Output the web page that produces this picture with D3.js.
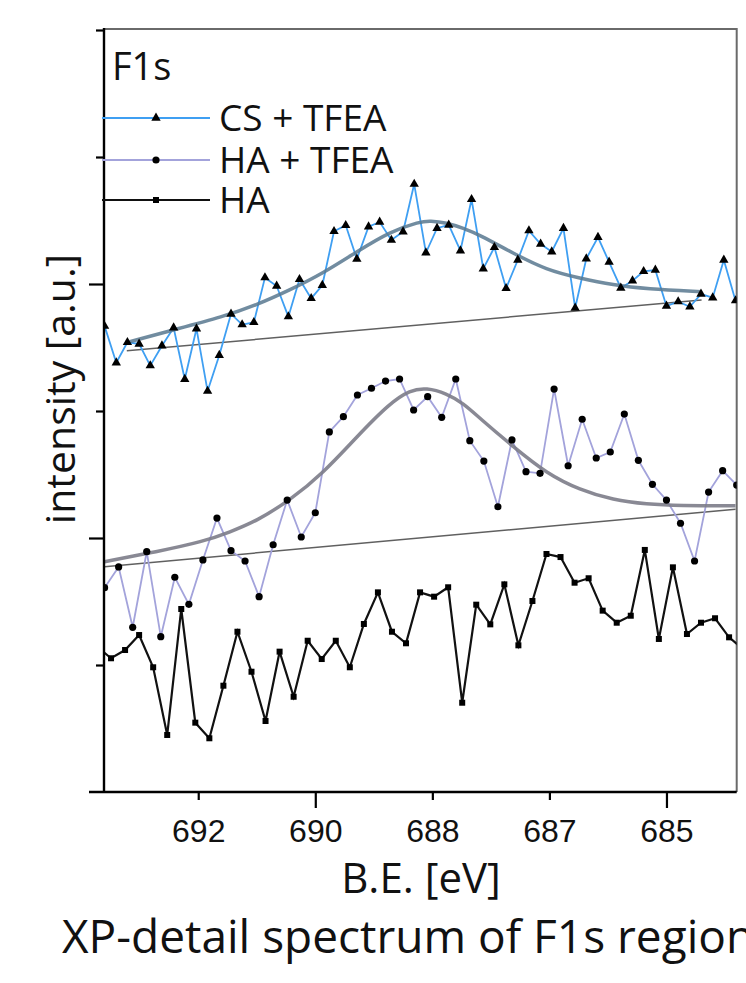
<!DOCTYPE html>
<html lang="en">
	<head>
		<meta charset="utf-8">
		<title>XP-detail spectrum of F1s region</title>
		<script src="https://d3js.org/d3.v7.min.js" charset="utf-8"></script>
		<style type="text/css">
			body { margin: 0; background: #fff; }
			svg { display: block; }
		</style>
	</head>
	<body>
		<div id="main"></div>

		<script type="text/javascript">

			// binding energies [eV] and intensities (axis units, 0 = bottom, 6 = top)
			var csEnergy = [693.60, 693.40, 693.21, 693.01, 692.82, 692.62, 692.42, 692.23, 692.03, 691.84,
				691.64, 691.44, 691.25, 691.05, 690.86, 690.66, 690.46, 690.27, 690.07, 689.88,
				689.68, 689.48, 689.29, 689.09, 688.90, 688.70, 688.50, 688.31, 688.11, 687.92,
				687.72, 687.52, 687.33, 687.13, 686.94, 686.74, 686.54, 686.35, 686.15, 685.96,
				685.76, 685.56, 685.37, 685.17, 684.98, 684.78, 684.58, 684.39, 684.19, 684.00,
				683.80, 683.60, 683.41, 683.21, 683.02, 682.82];
			var csIntensity = [3.669, 3.380, 3.541, 3.528, 3.357, 3.514, 3.656, 3.250, 3.648, 3.157,
				3.439, 3.764, 3.680, 3.698, 4.050, 3.984, 3.743, 4.037, 3.887, 3.990,
				4.415, 4.462, 4.197, 4.451, 4.488, 4.346, 4.412, 4.787, 4.246, 4.439,
				4.465, 4.262, 4.667, 4.120, 4.289, 3.966, 4.189, 4.420, 4.315, 4.254,
				4.439, 3.811, 4.199, 4.368, 4.173, 3.969, 4.026, 4.100, 4.110, 3.827,
				3.861, 3.821, 3.921, 3.892, 4.189, 3.869];

			var haTfeaEnergy = [693.60, 693.36, 693.12, 692.88, 692.64, 692.40, 692.16, 691.92, 691.68, 691.44,
				691.20, 690.96, 690.72, 690.48, 690.24, 690.00, 689.76, 689.52, 689.28, 689.04,
				688.80, 688.56, 688.32, 688.08, 687.84, 687.60, 687.36, 687.12, 686.88, 686.64,
				686.40, 686.16, 685.92, 685.68, 685.44, 685.20, 684.96, 684.72, 684.48, 684.24,
				684.00, 683.76, 683.52, 683.28, 683.04, 682.80];
			var haTfeaIntensity = [1.609, 1.772, 1.297, 1.892, 1.223, 1.691, 1.478, 1.827, 2.157, 1.900,
				1.819, 1.538, 1.947, 2.299, 2.008, 2.199, 2.835, 2.955, 3.126, 3.179,
				3.236, 3.252, 3.008, 3.113, 2.950, 3.252, 2.766, 2.606, 2.246, 2.772,
				2.522, 2.509, 3.173, 2.569, 2.935, 2.630, 2.677, 2.976, 2.612, 2.423,
				2.299, 2.116, 1.819, 2.362, 2.530, 2.417];

			var haEnergy = [693.73, 693.49, 693.25, 693.01, 692.77, 692.53, 692.29, 692.05, 691.81, 691.57,
				691.33, 691.09, 690.85, 690.61, 690.37, 690.13, 689.89, 689.65, 689.41, 689.17,
				688.93, 688.69, 688.45, 688.21, 687.97, 687.73, 687.49, 687.25, 687.01, 686.77,
				686.53, 686.29, 686.05, 685.81, 685.57, 685.33, 685.09, 684.85, 684.61, 684.37,
				684.13, 683.89, 683.65, 683.41, 683.17, 682.93, 682.69];
			var haIntensity = [1.146, 1.053, 1.118, 1.236, 0.982, 0.449, 1.441, 0.546, 0.423, 0.837,
				1.262, 0.947, 0.559, 1.105, 0.750, 1.191, 1.047, 1.191, 0.982, 1.323,
				1.572, 1.262, 1.171, 1.572, 1.538, 1.612, 0.703, 1.475, 1.320, 1.635,
				1.155, 1.504, 1.874, 1.850, 1.648, 1.683, 1.428, 1.333, 1.388, 1.906,
				1.205, 1.769, 1.244, 1.333, 1.368, 1.218, 1.124];

			// peak fits and linear backgrounds
			var csFitEnergy = [693.17, 692.43, 691.57, 691.00, 690.43, 689.87, 689.29, 688.73, 688.21, 688.04,
				687.76, 687.47, 687.19, 686.62, 686.05, 685.48, 684.91, 684.34, 683.40];
			var csFitIntensity = [3.546, 3.638, 3.743, 3.835, 3.953, 4.084, 4.254, 4.412, 4.491, 4.498,
				4.483, 4.439, 4.386, 4.242, 4.110, 4.045, 3.992, 3.961, 3.939];
			var csBaseEnergy = [693.22, 683.40];
			var csBaseIntensity = [3.474, 3.874];

			var haTfeaFitEnergy = [693.60, 692.71, 691.91, 691.46, 691.00, 690.43, 689.87, 689.29, 688.73, 688.38, 688.10,
				687.76, 687.47, 687.19, 686.62, 686.05, 685.48, 684.91, 684.34, 683.77, 682.82];
			var haTfeaFitIntensity = [1.813, 1.892, 1.972, 2.047, 2.134, 2.299, 2.509, 2.798, 3.061, 3.165, 3.183,
				3.139, 3.061, 2.943, 2.719, 2.509, 2.378, 2.299, 2.265, 2.254, 2.254];
			var haTfeaBaseEnergy = [693.60, 682.82];
			var haTfeaBaseIntensity = [1.774, 2.226];

			var xTickValues = [692, 690, 688, 686, 684];
			var xTickLabels = ["692", "690", "688", "687", "685"];
			var yTickValues = [1, 2, 3, 4, 5, 6];

			var legendNames = ["CS + TFEA", "HA + TFEA", "HA"];

			function zip(xs, ys) {
				return xs.map(function(d, i) { return { e: d, v: ys[i] }; });
			}

			var w = 746;
			var h = 983;
			var plotLeft = 104, plotRight = 736.7, plotTop = 30, plotBottom = 792;

			var svg = d3.select("#main")
						.append("svg")
						.attr("width", w)
						.attr("height", h)
						.style("background", "#fff");

			var x = d3.scaleLinear().domain([693.61, 682.80]).range([plotLeft, plotRight]);
			var y = d3.scaleLinear().domain([0, 6]).range([plotBottom, plotTop]);

			svg.append("clipPath").attr("id", "plotclip")
				.append("rect")
				.attr("x", plotLeft).attr("y", plotTop)
				.attr("width", plotRight - plotLeft).attr("height", plotBottom - plotTop);

			// frame (top and right)
			svg.append("path")
				.attr("d", "M" + plotLeft + "," + (plotTop - 1) + "H" + plotRight + "V" + plotBottom)
				.attr("fill", "none")
				.attr("stroke", "#6a6a6a")
				.attr("stroke-width", 2);

			var plot = svg.append("g").attr("clip-path", "url(#plotclip)");

			var line = d3.line()
				.x(function(d) { return x(d.e); })
				.y(function(d) { return y(d.v); });
			var smooth = d3.line()
				.x(function(d) { return x(d.e); })
				.y(function(d) { return y(d.v); })
				.curve(d3.curveBasis);

			// backgrounds
			[[csBaseEnergy, csBaseIntensity], [haTfeaBaseEnergy, haTfeaBaseIntensity]].forEach(function(b) {
				plot.append("path")
					.datum(zip(b[0], b[1]))
					.attr("d", line)
					.attr("fill", "none")
					.attr("stroke", "#606060")
					.attr("stroke-width", 1.5);
			});

			// raw spectra
			plot.append("path")
				.datum(zip(haEnergy, haIntensity))
				.attr("d", line)
				.attr("fill", "none")
				.attr("stroke", "#111")
				.attr("stroke-width", 2.2);

			plot.append("path")
				.datum(zip(haTfeaEnergy, haTfeaIntensity))
				.attr("d", line)
				.attr("fill", "none")
				.attr("stroke", "#a3a3db")
				.attr("stroke-width", 1.8);

			plot.append("path")
				.datum(zip(csEnergy, csIntensity))
				.attr("d", line)
				.attr("fill", "none")
				.attr("stroke", "#3f9ff2")
				.attr("stroke-width", 1.8);

			// fits
			plot.append("path")
				.datum(zip(csFitEnergy, csFitIntensity))
				.attr("d", smooth)
				.attr("fill", "none")
				.attr("stroke", "#58788f")
				.attr("stroke-opacity", 0.85)
				.attr("stroke-width", 3.5);

			plot.append("path")
				.datum(zip(haTfeaFitEnergy, haTfeaFitIntensity))
				.attr("d", smooth)
				.attr("fill", "none")
				.attr("stroke", "#7c7c88")
				.attr("stroke-opacity", 0.9)
				.attr("stroke-width", 3.5);

			// markers
			var tri = d3.symbol().type(d3.symbolTriangle).size(38);
			plot.selectAll(".cs")
				.data(zip(csEnergy, csIntensity))
				.enter()
				.append("path")
				.attr("class", "cs")
				.attr("d", tri)
				.attr("transform", function(d) { return "translate(" + x(d.e) + "," + y(d.v) + ")"; })
				.attr("fill", "#000");

			plot.selectAll(".hatfea")
				.data(zip(haTfeaEnergy, haTfeaIntensity))
				.enter()
				.append("circle")
				.attr("class", "hatfea")
				.attr("cx", function(d) { return x(d.e); })
				.attr("cy", function(d) { return y(d.v); })
				.attr("r", 3.6)
				.attr("fill", "#000");

			plot.selectAll(".ha")
				.data(zip(haEnergy, haIntensity))
				.enter()
				.append("rect")
				.attr("class", "ha")
				.attr("x", function(d) { return x(d.e) - 3; })
				.attr("y", function(d) { return y(d.v) - 3; })
				.attr("width", 6)
				.attr("height", 6)
				.attr("fill", "#000");

			// axes
			var xAxis = d3.axisBottom(x)
				.tickValues(xTickValues)
				.tickFormat(function(d, i) { return xTickLabels[i]; })
				.tickSize(8)
				.tickSizeOuter(0);
			var gx = svg.append("g")
				.attr("transform", "translate(0," + plotBottom + ")")
				.call(xAxis);
			gx.select(".domain").remove();
			gx.selectAll(".tick line")
				.attr("stroke", "#000")
				.attr("stroke-width", 2.2)
				.attr("y2", function(d, i) { return (i === 1 || i === 4) ? 16 : 8; });
			gx.selectAll(".tick text")
				.attr("y", 50)
				.attr("dy", null)
				.attr("fill", "#111")
				.style("font-family", "'Liberation Sans', Arial, sans-serif")
				.style("font-size", "32px");

			var yAxis = d3.axisLeft(y)
				.tickValues(yTickValues)
				.tickFormat("")
				.tickSize(8)
				.tickSizeOuter(0);
			var gy = svg.append("g")
				.attr("transform", "translate(" + plotLeft + ",0)")
				.call(yAxis);
			gy.select(".domain").remove();
			gy.selectAll(".tick line")
				.attr("stroke", "#000")
				.attr("stroke-width", 2.2)
				.attr("x2", function(d) { return (d === 2 || d === 4) ? -15 : -8; });

			svg.append("line")
				.attr("x1", plotLeft - 15).attr("x2", plotRight)
				.attr("y1", plotBottom).attr("y2", plotBottom)
				.attr("stroke", "#000").attr("stroke-width", 2.4);
			svg.append("line")
				.attr("x1", plotLeft).attr("x2", plotLeft)
				.attr("y1", plotTop - 2).attr("y2", plotBottom)
				.attr("stroke", "#000").attr("stroke-width", 2.4);

			// texts
			var sans = "'Open Sans', 'Noto Sans', sans-serif";

			svg.append("text")
				.attr("x", 112).attr("y", 80)
				.style("font-family", sans).style("font-size", "38px")
				.attr("fill", "#111")
				.text("F1s");

			// legend
			var legendY = [118, 160, 200];
			var legendText = [131, 173, 213];
			var legendColors = ["#3f9ff2", "#a3a3db", "#111"];
			legendNames.forEach(function(name, i) {
				svg.append("line")
					.attr("x1", 102).attr("x2", 210)
					.attr("y1", legendY[i]).attr("y2", legendY[i])
					.attr("stroke", legendColors[i])
					.attr("stroke-width", i === 2 ? 2.2 : 1.8);
				svg.append("text")
					.attr("x", 219).attr("y", legendText[i])
					.style("font-family", sans).style("font-size", "37px")
					.attr("fill", "#111")
					.text(name);
			});
			svg.append("path")
				.attr("d", tri)
				.attr("transform", "translate(156," + legendY[0] + ")")
				.attr("fill", "#000");
			svg.append("circle")
				.attr("cx", 156).attr("cy", legendY[1]).attr("r", 3.6)
				.attr("fill", "#000");
			svg.append("rect")
				.attr("x", 153).attr("y", legendY[2] - 3).attr("width", 6).attr("height", 6)
				.attr("fill", "#000");

			svg.append("text")
				.attr("transform", "translate(75,389) rotate(-90)")
				.attr("text-anchor", "middle")
				.style("font-family", sans).style("font-size", "41px")
				.attr("fill", "#111")
				.text("intensity [a.u.]");

			svg.append("text")
				.attr("x", 421).attr("y", 893)
				.attr("text-anchor", "middle")
				.style("font-family", sans).style("font-size", "42px")
				.attr("fill", "#111")
				.text("B.E. [eV]");

			svg.append("text")
				.attr("x", 62).attr("y", 953)
				.style("font-family", sans).style("font-size", "46px")
				.attr("fill", "#111")
				.text("XP-detail spectrum of F1s region");

		</script>
	</body>
</html>
